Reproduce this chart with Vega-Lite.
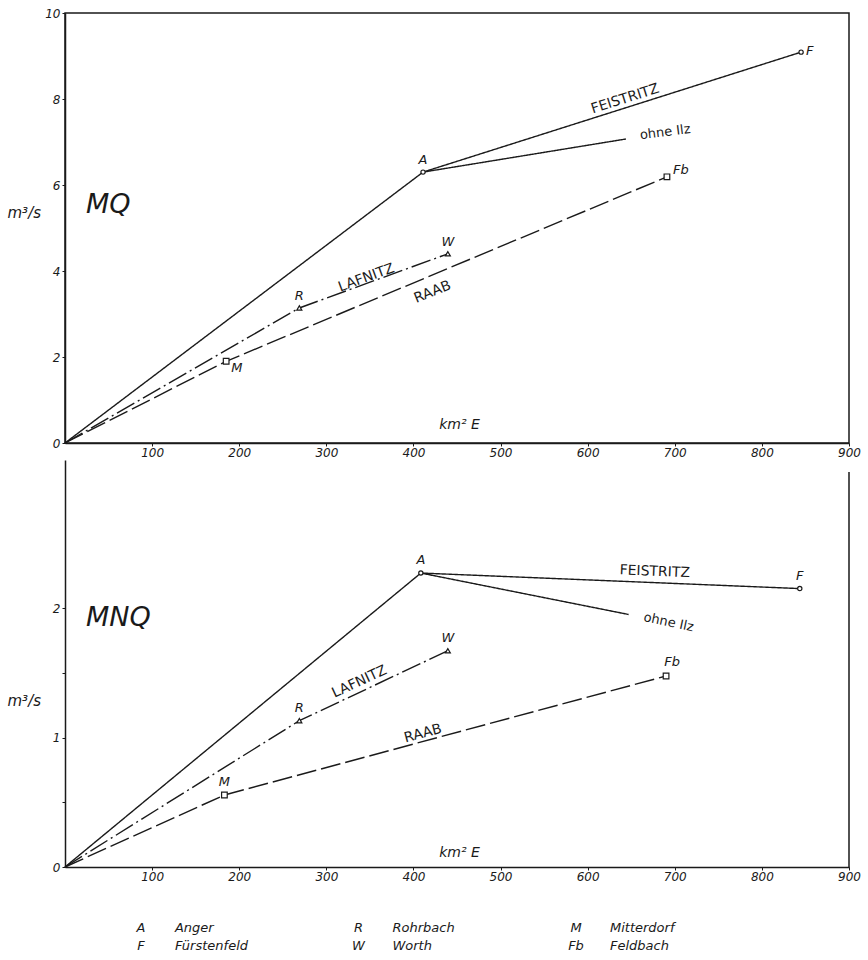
{
  "$schema": "https://vega.github.io/schema/vega-lite/v6.json",
  "background": "white",
  "padding": {"left": 6, "top": 6, "right": 3, "bottom": 5},
  "config": {
    "font": "DejaVu Sans",
    "view": {"stroke": null},
    "axis": {"labelFont": "DejaVu Sans", "labelFontStyle": "italic", "labelFontSize": 12, "labelColor": "#1a1a1a", "labelFlush": false, "titleFont": "DejaVu Sans", "titleFontStyle": "italic", "titleFontWeight": "normal", "titleFontSize": 14, "titleColor": "#1a1a1a", "domainColor": "#1a1a1a", "domainWidth": 1.5, "tickColor": "#1a1a1a", "tickWidth": 1, "grid": false},
    "text": {"font": "DejaVu Sans", "fontStyle": "italic", "fontSize": 13, "color": "#1a1a1a"}
  },
  "datasets": {
    "lines": [
      {"panel": "MQ", "river": "FEISTRITZ", "path": "MQ-F", "seq": 0, "km2": 0, "q": 0},
      {"panel": "MQ", "river": "FEISTRITZ", "path": "MQ-F", "seq": 1, "km2": 411, "q": 6.3},
      {"panel": "MQ", "river": "FEISTRITZ", "path": "MQ-F", "seq": 2, "km2": 845, "q": 9.09},
      {"panel": "MQ", "river": "FEISTRITZ", "path": "MQ-I", "seq": 0, "km2": 411, "q": 6.3},
      {"panel": "MQ", "river": "FEISTRITZ", "path": "MQ-I", "seq": 1, "km2": 644, "q": 7.07},
      {"panel": "MQ", "river": "LAFNITZ", "path": "MQ-L", "seq": 0, "km2": 0, "q": 0},
      {"panel": "MQ", "river": "LAFNITZ", "path": "MQ-L", "seq": 1, "km2": 269, "q": 3.14},
      {"panel": "MQ", "river": "LAFNITZ", "path": "MQ-L", "seq": 2, "km2": 439.5, "q": 4.4},
      {"panel": "MQ", "river": "RAAB", "path": "MQ-R", "seq": 0, "km2": 0, "q": 0},
      {"panel": "MQ", "river": "RAAB", "path": "MQ-R", "seq": 1, "km2": 185, "q": 1.9},
      {"panel": "MQ", "river": "RAAB", "path": "MQ-R", "seq": 2, "km2": 691, "q": 6.19},
      {"panel": "MNQ", "river": "FEISTRITZ", "path": "MNQ-F", "seq": 0, "km2": 0, "q": 0},
      {"panel": "MNQ", "river": "FEISTRITZ", "path": "MNQ-F", "seq": 1, "km2": 408.5, "q": 2.27},
      {"panel": "MNQ", "river": "FEISTRITZ", "path": "MNQ-F", "seq": 2, "km2": 843.5, "q": 2.15},
      {"panel": "MNQ", "river": "FEISTRITZ", "path": "MNQ-I", "seq": 0, "km2": 408.5, "q": 2.27},
      {"panel": "MNQ", "river": "FEISTRITZ", "path": "MNQ-I", "seq": 1, "km2": 647, "q": 1.95},
      {"panel": "MNQ", "river": "LAFNITZ", "path": "MNQ-L", "seq": 0, "km2": 0, "q": 0},
      {"panel": "MNQ", "river": "LAFNITZ", "path": "MNQ-L", "seq": 1, "km2": 269, "q": 1.13},
      {"panel": "MNQ", "river": "LAFNITZ", "path": "MNQ-L", "seq": 2, "km2": 439.5, "q": 1.67},
      {"panel": "MNQ", "river": "RAAB", "path": "MNQ-R", "seq": 0, "km2": 0, "q": 0},
      {"panel": "MNQ", "river": "RAAB", "path": "MNQ-R", "seq": 1, "km2": 183, "q": 0.556},
      {"panel": "MNQ", "river": "RAAB", "path": "MNQ-R", "seq": 2, "km2": 690, "q": 1.475}
    ],
    "points": [
      {"panel": "MQ", "river": "FEISTRITZ", "station": "A", "km2": 411, "q": 6.3},
      {"panel": "MQ", "river": "FEISTRITZ", "station": "F", "km2": 845, "q": 9.09},
      {"panel": "MQ", "river": "LAFNITZ", "station": "R", "km2": 269, "q": 3.14},
      {"panel": "MQ", "river": "LAFNITZ", "station": "W", "km2": 439.5, "q": 4.4},
      {"panel": "MQ", "river": "RAAB", "station": "M", "km2": 185, "q": 1.9},
      {"panel": "MQ", "river": "RAAB", "station": "Fb", "km2": 691, "q": 6.19},
      {"panel": "MNQ", "river": "FEISTRITZ", "station": "A", "km2": 408.5, "q": 2.27},
      {"panel": "MNQ", "river": "FEISTRITZ", "station": "F", "km2": 843.5, "q": 2.15},
      {"panel": "MNQ", "river": "LAFNITZ", "station": "R", "km2": 269, "q": 1.13},
      {"panel": "MNQ", "river": "LAFNITZ", "station": "W", "km2": 439.5, "q": 1.67},
      {"panel": "MNQ", "river": "RAAB", "station": "M", "km2": 183, "q": 0.556},
      {"panel": "MNQ", "river": "RAAB", "station": "Fb", "km2": 690, "q": 1.475}
    ],
    "linelabels": [
      {"panel": "MQ", "text": "FEISTRITZ", "km2": 643, "q": 8.0},
      {"panel": "MQ", "text": "ohne Ilz", "km2": 689, "q": 7.23},
      {"panel": "MQ", "text": "LAFNITZ", "km2": 346, "q": 3.84},
      {"panel": "MQ", "text": "RAAB", "km2": 422, "q": 3.51},
      {"panel": "MNQ", "text": "FEISTRITZ", "km2": 677, "q": 2.28},
      {"panel": "MNQ", "text": "ohne Ilz", "km2": 693, "q": 1.89},
      {"panel": "MNQ", "text": "LAFNITZ", "km2": 338, "q": 1.43},
      {"panel": "MNQ", "text": "RAAB", "km2": 411, "q": 1.03}
    ],
    "panels": [
      {"panel": "MQ", "km2": 24, "q": 5.53},
      {"panel": "MNQ", "km2": 24, "q": 1.92}
    ],
    "key": [
      {"col": 0, "row": 0, "code": "A", "name": "Anger"},
      {"col": 0, "row": 1, "code": "F", "name": "Fürstenfeld"},
      {"col": 1, "row": 0, "code": "R", "name": "Rohrbach"},
      {"col": 1, "row": 1, "code": "W", "name": "Worth"},
      {"col": 2, "row": 0, "code": "M", "name": "Mitterdorf"},
      {"col": 2, "row": 1, "code": "Fb", "name": "Feldbach"}
    ]
  },
  "bounds": "flush",
  "spacing": 17,
  "vconcat": [
    {
      "width": 784,
      "height": 430,
      "view": {"stroke": "#1a1a1a", "strokeWidth": 1.5},
      "layer": [
        {
          "data": {"name": "lines"},
          "transform": [{"filter": "datum.panel == 'MQ'"}],
          "mark": {"type": "line", "strokeWidth": 1.4, "color": "#1a1a1a"},
          "encoding": {
            "x": {"field": "km2", "type": "quantitative", "scale": {"domain": [0, 900], "nice": false},
              "axis": {"values": [100, 200, 300, 400, 500, 600, 700, 800, 900], "format": "d", "title": "km² E", "titleX": 394, "titleY": -19, "titleAlign": "center", "titleBaseline": "middle", "tickSize": 3, "labelPadding": 1}},
            "y": {"field": "q", "type": "quantitative", "scale": {"domain": [0, 10], "nice": false},
              "axis": {"values": [0, 2, 4, 6, 8, 10], "format": "d", "title": "m³/s", "titleAngle": 0, "titleX": -58, "titleY": 199, "titleAlign": "left", "titleBaseline": "middle", "titleFontSize": 15, "tickSize": 3, "labelPadding": 2}},
            "detail": {"field": "path"},
            "order": {"field": "seq"},
            "strokeDash": {"field": "river", "type": "nominal", "scale": {"domain": ["FEISTRITZ", "LAFNITZ", "RAAB"], "range": [[1, 0], [20, 4, 2, 4], [20, 5]]}, "legend": null}
          }
        },
        {
          "data": {"name": "points"},
          "transform": [{"filter": "datum.panel == 'MQ'"}],
          "mark": {"type": "point", "filled": true, "fill": "white", "stroke": "#1a1a1a", "strokeWidth": 1.2, "opacity": 1},
          "encoding": {
            "x": {"field": "km2", "type": "quantitative"},
            "y": {"field": "q", "type": "quantitative"},
            "shape": {"field": "river", "type": "nominal", "scale": {"domain": ["FEISTRITZ", "LAFNITZ", "RAAB"], "range": ["circle", "triangle-up", "square"]}, "legend": null},
            "size": {"field": "river", "type": "ordinal", "scale": {"domain": ["FEISTRITZ", "LAFNITZ", "RAAB"], "range": [18, 32, 45]}, "legend": null}
          }
        },
        {
          "data": {"name": "points"},
          "transform": [{"filter": "datum.panel == 'MQ' && indexof(['A','R','W'], datum.station) >= 0"}],
          "mark": {"type": "text", "dy": -12, "align": "center", "baseline": "middle"},
          "encoding": {
            "x": {"field": "km2", "type": "quantitative"},
            "y": {"field": "q", "type": "quantitative"},
            "text": {"field": "station"}
          }
        },
        {
          "data": {"name": "points"},
          "transform": [{"filter": "datum.panel == 'MQ' && datum.station == 'F'"}],
          "mark": {"type": "text", "dx": 5, "dy": -1, "align": "left", "baseline": "middle"},
          "encoding": {
            "x": {"field": "km2", "type": "quantitative"},
            "y": {"field": "q", "type": "quantitative"},
            "text": {"field": "station"}
          }
        },
        {
          "data": {"name": "points"},
          "transform": [{"filter": "datum.panel == 'MQ' && datum.station == 'Fb'"}],
          "mark": {"type": "text", "dx": 6, "dy": -7, "align": "left", "baseline": "middle"},
          "encoding": {
            "x": {"field": "km2", "type": "quantitative"},
            "y": {"field": "q", "type": "quantitative"},
            "text": {"field": "station"}
          }
        },
        {
          "data": {"name": "points"},
          "transform": [{"filter": "datum.panel == 'MQ' && datum.station == 'M'"}],
          "mark": {"type": "text", "dx": 5, "dy": 7, "align": "left", "baseline": "middle"},
          "encoding": {
            "x": {"field": "km2", "type": "quantitative"},
            "y": {"field": "q", "type": "quantitative"},
            "text": {"field": "station"}
          }
        },
        {
          "data": {"name": "linelabels"},
          "transform": [{"filter": "datum.panel == 'MQ' && datum.text == 'FEISTRITZ'"}],
          "mark": {"type": "text", "angle": 342.4, "fontSize": 14, "fontStyle": "normal", "align": "center", "baseline": "middle"},
          "encoding": {
            "x": {"field": "km2", "type": "quantitative"},
            "y": {"field": "q", "type": "quantitative"},
            "text": {"field": "text"}
          }
        },
        {
          "data": {"name": "linelabels"},
          "transform": [{"filter": "datum.panel == 'MQ' && datum.text == 'ohne Ilz'"}],
          "mark": {"type": "text", "angle": 353, "fontSize": 13, "fontStyle": "normal", "align": "center", "baseline": "middle"},
          "encoding": {
            "x": {"field": "km2", "type": "quantitative"},
            "y": {"field": "q", "type": "quantitative"},
            "text": {"field": "text"}
          }
        },
        {
          "data": {"name": "linelabels"},
          "transform": [{"filter": "datum.panel == 'MQ' && datum.text == 'LAFNITZ'"}],
          "mark": {"type": "text", "angle": 340, "fontSize": 14, "fontStyle": "normal", "align": "center", "baseline": "middle"},
          "encoding": {
            "x": {"field": "km2", "type": "quantitative"},
            "y": {"field": "q", "type": "quantitative"},
            "text": {"field": "text"}
          }
        },
        {
          "data": {"name": "linelabels"},
          "transform": [{"filter": "datum.panel == 'MQ' && datum.text == 'RAAB'"}],
          "mark": {"type": "text", "angle": 338, "fontSize": 14, "fontStyle": "normal", "align": "center", "baseline": "middle"},
          "encoding": {
            "x": {"field": "km2", "type": "quantitative"},
            "y": {"field": "q", "type": "quantitative"},
            "text": {"field": "text"}
          }
        },
        {
          "data": {"name": "panels"},
          "transform": [{"filter": "datum.panel == 'MQ'"}],
          "mark": {"type": "text", "fontSize": 27, "fontStyle": "italic", "align": "left", "baseline": "middle"},
          "encoding": {
            "x": {"field": "km2", "type": "quantitative"},
            "y": {"field": "q", "type": "quantitative"},
            "text": {"field": "panel"}
          }
        }
      ]
    },
    {
      "width": 784,
      "height": 407,
      "view": {"stroke": "#1a1a1a", "strokeWidth": 1.5, "strokeDash": [0.01, 796, 395, 2400]},
      "layer": [
        {
          "data": {"name": "lines"},
          "transform": [{"filter": "datum.panel == 'MNQ'"}],
          "mark": {"type": "line", "strokeWidth": 1.4, "color": "#1a1a1a"},
          "encoding": {
            "x": {"field": "km2", "type": "quantitative", "scale": {"domain": [0, 900], "nice": false},
              "axis": {"values": [100, 200, 300, 400, 500, 600, 700, 800, 900], "format": "d", "title": "km² E", "titleX": 394, "titleY": -15, "titleAlign": "center", "titleBaseline": "middle", "tickSize": 3, "labelPadding": 1}},
            "y": {"field": "q", "type": "quantitative", "scale": {"domain": [0, 3.143], "nice": false, "zero": true},
              "axis": {"values": [0, 0.5, 1, 1.5, 2], "labelExpr": "datum.value % 1 == 0 ? format(datum.value, 'd') : ''", "title": "m³/s", "titleAngle": 0, "titleX": -58, "titleY": 240, "titleAlign": "left", "titleBaseline": "middle", "titleFontSize": 15, "tickSize": 3, "labelPadding": 2}},
            "detail": {"field": "path"},
            "order": {"field": "seq"},
            "strokeDash": {"field": "river", "type": "nominal", "scale": {"domain": ["FEISTRITZ", "LAFNITZ", "RAAB"], "range": [[1, 0], [20, 4, 2, 4], [20, 5]]}, "legend": null}
          }
        },
        {
          "data": {"name": "points"},
          "transform": [{"filter": "datum.panel == 'MNQ'"}],
          "mark": {"type": "point", "filled": true, "fill": "white", "stroke": "#1a1a1a", "strokeWidth": 1.2, "opacity": 1},
          "encoding": {
            "x": {"field": "km2", "type": "quantitative"},
            "y": {"field": "q", "type": "quantitative"},
            "shape": {"field": "river", "type": "nominal", "scale": {"domain": ["FEISTRITZ", "LAFNITZ", "RAAB"], "range": ["circle", "triangle-up", "square"]}, "legend": null},
            "size": {"field": "river", "type": "ordinal", "scale": {"domain": ["FEISTRITZ", "LAFNITZ", "RAAB"], "range": [18, 32, 45]}, "legend": null}
          }
        },
        {
          "data": {"name": "points"},
          "transform": [{"filter": "datum.panel == 'MNQ' && datum.station != 'Fb'"}],
          "mark": {"type": "text", "dy": -13, "align": "center", "baseline": "middle"},
          "encoding": {
            "x": {"field": "km2", "type": "quantitative"},
            "y": {"field": "q", "type": "quantitative"},
            "text": {"field": "station"}
          }
        },
        {
          "data": {"name": "points"},
          "transform": [{"filter": "datum.panel == 'MNQ' && datum.station == 'Fb'"}],
          "mark": {"type": "text", "dx": 6, "dy": -14, "align": "center", "baseline": "middle"},
          "encoding": {
            "x": {"field": "km2", "type": "quantitative"},
            "y": {"field": "q", "type": "quantitative"},
            "text": {"field": "station"}
          }
        },
        {
          "data": {"name": "linelabels"},
          "transform": [{"filter": "datum.panel == 'MNQ' && datum.text == 'FEISTRITZ'"}],
          "mark": {"type": "text", "angle": 2.3, "fontSize": 14, "fontStyle": "normal", "align": "center", "baseline": "middle"},
          "encoding": {
            "x": {"field": "km2", "type": "quantitative"},
            "y": {"field": "q", "type": "quantitative"},
            "text": {"field": "text"}
          }
        },
        {
          "data": {"name": "linelabels"},
          "transform": [{"filter": "datum.panel == 'MNQ' && datum.text == 'ohne Ilz'"}],
          "mark": {"type": "text", "angle": 12, "fontSize": 13, "fontStyle": "normal", "align": "center", "baseline": "middle"},
          "encoding": {
            "x": {"field": "km2", "type": "quantitative"},
            "y": {"field": "q", "type": "quantitative"},
            "text": {"field": "text"}
          }
        },
        {
          "data": {"name": "linelabels"},
          "transform": [{"filter": "datum.panel == 'MNQ' && datum.text == 'LAFNITZ'"}],
          "mark": {"type": "text", "angle": 335, "fontSize": 14, "fontStyle": "normal", "align": "center", "baseline": "middle"},
          "encoding": {
            "x": {"field": "km2", "type": "quantitative"},
            "y": {"field": "q", "type": "quantitative"},
            "text": {"field": "text"}
          }
        },
        {
          "data": {"name": "linelabels"},
          "transform": [{"filter": "datum.panel == 'MNQ' && datum.text == 'RAAB'"}],
          "mark": {"type": "text", "angle": 345, "fontSize": 14, "fontStyle": "normal", "align": "center", "baseline": "middle"},
          "encoding": {
            "x": {"field": "km2", "type": "quantitative"},
            "y": {"field": "q", "type": "quantitative"},
            "text": {"field": "text"}
          }
        },
        {
          "data": {"name": "panels"},
          "transform": [{"filter": "datum.panel == 'MNQ'"}],
          "mark": {"type": "text", "fontSize": 27, "fontStyle": "italic", "align": "left", "baseline": "middle"},
          "encoding": {
            "x": {"field": "km2", "type": "quantitative"},
            "y": {"field": "q", "type": "quantitative"},
            "text": {"field": "panel"}
          }
        }
      ]
    },
    {
      "width": 784,
      "height": 62,
      "data": {"name": "key"},
      "layer": [
        {
          "mark": {"type": "text", "align": "center", "baseline": "middle", "fontSize": 13},
          "encoding": {
            "x": {"field": "col", "type": "quantitative", "scale": {"domain": [-0.349, 3.255], "nice": false, "zero": false}, "axis": null},
            "y": {"field": "row", "type": "quantitative", "scale": {"domain": [-2.444, 1], "nice": false, "zero": false, "reverse": true}, "axis": null},
            "text": {"field": "code"}
          }
        },
        {
          "mark": {"type": "text", "align": "left", "baseline": "middle", "dx": 34, "fontSize": 13},
          "encoding": {
            "x": {"field": "col", "type": "quantitative"},
            "y": {"field": "row", "type": "quantitative"},
            "text": {"field": "name"}
          }
        }
      ]
    }
  ]
}
